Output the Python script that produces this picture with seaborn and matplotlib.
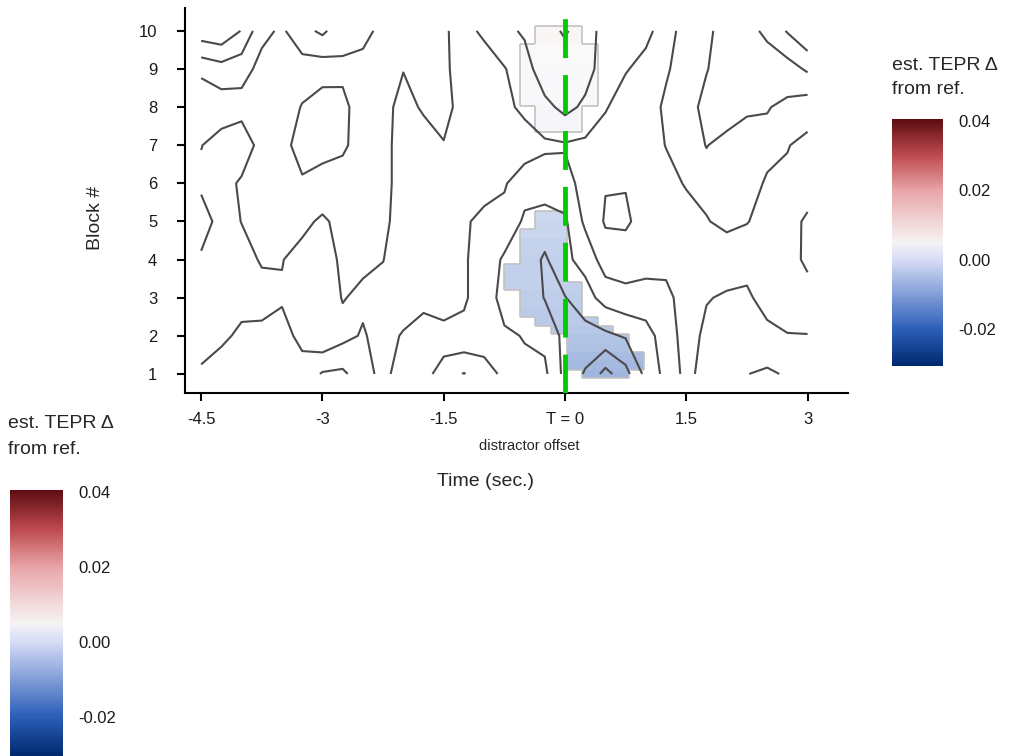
import numpy as np
import matplotlib
matplotlib.use("Agg")
import matplotlib.pyplot as plt
from matplotlib.colors import LinearSegmentedColormap, Normalize
from matplotlib.collections import LineCollection
from matplotlib.ticker import FormatStrFormatter
import seaborn as sns

# ---- data -------------------------------------------------------------
# smoothed surface (values x 0.01), one list per block, time from -4.5 to 3.0 s in 0.25 s steps
time_pts = np.linspace(-4.5, 3.0, 31)
block_pts = np.arange(1, 11)

block1 = [1.8, 1.5, 1.6, 1.6, 1.6, 1.7, 0.9, 0.8, 1.6, 2.3, 1.5, 1.4, 0.5, -0.05, 0.6, 1.2,
          1.2, 1.2, -0.3, -1.1, -2.34, -1.34, 0.3, 1.3, 2.3, 1.6, 1.4, 1.02, 0.85, 1.1, 1.6]
block2 = [2.6, 2.2, 1.8, 1.8, 1.75, 2.2, 2.85, 2.3, 1.9, 2.4, 1.9, 1.7, 1.6, 1.8, 1.5, 1.15,
          0.95, 0.76, -0.3, -0.4, -0.21, 0.1, 0.6, 1.5, 2.4, 1.8, 1.6, 1.5, 1.75, 1.95, 1.97]
block3 = [2.5, 2.5, 2.35, 2.3, 2.08, 2.3, 2.6, 1.95, 2.2, 2.3, 2.6, 2.2, 2.6, 2.1, 1.6, 0.6,
          0.7, -0.05, -0.04, 0.6, 1.4, 1.7, 1.6, 1.7, 2.5, 2.05, 1.9, 1.85, 2.35, 2.6, 2.6]
block4 = [2.15, 2.5, 2.3, 1.92, 1.97, 2.3, 2.5, 1.8, 1.8, 1.98, 2.5, 2.5, 2.6, 2.1, 1.6, 0.85,
          0.6, -0.15, 0.8, 1.33, 2.5, 2.5, 2.4, 2.35, 2.6, 2.6, 2.45, 2.32, 2.5, 2.6, 3.2]
block5 = [1.5, 2.4, 1.98, 1.8, 1.8, 1.78, 2.15, 1.7, 1.7, 1.8, 2.4, 2.5, 2.6, 2.15, 1.7, 1.68,
          0.85, 0.6, 0.85, 2.2, 3.1, 3.15, 2.6, 2.6, 2.75, 2.95, 3.22, 3.05, 2.6, 2.55, 3.2]
block6 = [2.21, 2.4, 1.85, 1.7, 1.7, 1.85, 1.35, 1.6, 1.6, 1.7, 2.4, 2.5, 2.5, 2.3, 2.45, 2.1,
          1.37, 1.5, 1.6, 2.4, 2.95, 2.95, 2.6, 2.8, 3.05, 3.25, 3.4, 3.35, 2.9, 2.8, 2.4]
block7 = [1.97, 2.4, 2.64, 1.6, 1.6, 2.5, 2.6, 2.15, 1.6, 1.7, 2.4, 2.4, 2.05, 2.4, 2.6, 2.4,
          2.6, 2.15, 2.1, 2.2, 2.6, 2.7, 2.7, 3.02, 3.3, 2.98, 3.2, 3.3, 3.25, 3.05, 2.7]
block8 = [1.05, 1.47, 1.62, 1.6, 1.55, 2.05, 2.6, 2.2, 1.6, 1.7, 2.3, 1.89, 1.67, 2.4, 2.6, 2.3,
          1.72, 1.3, 0.7, 1.2, 1.9, 2.6, 2.6, 3.15, 3.4, 2.7, 2.66, 2.9, 2.95, 3.2, 3.55]
block9 = [2.3, 2.6, 2.38, 1.7, 1.6, 1.57, 1.45, 1.82, 1.7, 1.7, 1.97, 1.6, 1.85, 2.35, 2.5, 2.05,
          1.5, 0.3, 0.4, 0.58, 1.5, 1.91, 2.4, 2.9, 3.4, 3.05, 2.5, 2.6, 2.5, 2.44, 1.85]
block10 = [4.6, 4.8, 3.95, 2.25, 1.85, 2.67, 3.2, 2.35, 2.27, 1.75, 1.8, 1.6, 1.9, 2.3, 1.82, 1.3,
           0.84, 0.3, -0.1, 0.5, 1.4, 1.7, 1.67, 2.6, 3.4, 3.3, 2.4, 2.3, 1.8, 0.92, 0.05]

# significant cells of the 40 x 40 evaluation grid: row, first col, last col, fill value
sig_row = [0, 1, 2, 3, 4, 5, 6, 7, 8, 9, 10, 11, 12, 13, 14, 15, 16, 17, 18,
           28, 29, 30, 31, 32, 33, 34, 35, 36, 37, 38, 39]
sig_first = [25, 24, 24, 24, 24, 23, 22, 21, 21, 21, 20, 20, 20, 21, 21, 21, 21, 22, 22,
             22, 22, 22, 21, 21, 21, 21, 21, 21, 21, 22, 22]
sig_last = [27, 28, 28, 27, 27, 26, 25, 24, 24, 24, 24, 23, 23, 23, 23, 23, 23, 23, 23,
            24, 24, 24, 25, 25, 25, 25, 25, 25, 25, 24, 24]
sig_fill = [-0.020, -0.019, -0.018, -0.016, -0.015, -0.014, -0.013, -0.013, -0.012, -0.012,
            -0.011, -0.011, -0.011, -0.011, -0.010, -0.010, -0.009, -0.009, -0.008,
            0.003, 0.003, 0.003, 0.004, 0.004, 0.004, 0.004, 0.005, 0.005, 0.005, 0.007, 0.007]

fill_min, fill_max = -0.0305, 0.0405
cbar_ticks = [-0.02, 0.0, 0.02, 0.04]
x_ticks = [-4.5, -3, -1.5, 0, 1.5, 3]
x_labels = ["-4.5", "-3", "-1.5", "T = 0", "1.5", "3"]
contour_levels = [-0.02, -0.01, 0.0, 0.01, 0.02, 0.03, 0.04]

# ---- style ------------------------------------------------------------
sns.set_theme(style="ticks")
plt.rcParams["font.family"] = ["Liberation Sans", "DejaVu Sans"]
plt.rcParams["axes.unicode_minus"] = False
plt.rcParams["contour.negative_linestyle"] = "solid"

cmap = LinearSegmentedColormap.from_list(
    "tepr",
    [(0.0, "#00286e"), (0.148, "#2d5fb9"), (0.43, "#d7dcf5"), (0.5, "#f6f4f4"),
     (0.711, "#e8a5a8"), (0.852, "#be4b50"), (1.0, "#5e0c12")])
norm = Normalize(fill_min, fill_max)

W, H = 1022, 756
fig = plt.figure(figsize=(W / 100, H / 100), dpi=100)
ax = fig.add_axes([185 / W, 1 - 393 / H, (848 - 185) / W, (393 - 8) / H])

# significant raster
sig_t = np.linspace(-4.5, 3.0, 40)
sig_b = np.linspace(1, 10, 40)
dt = sig_t[1] - sig_t[0]
db = sig_b[1] - sig_b[0]
t_edges = np.append(sig_t - dt / 2, sig_t[-1] + dt / 2)
b_edges = np.append(sig_b - db / 2, sig_b[-1] + db / 2)
grid = np.full((40, 40), np.nan)
for r, c0, c1, v in zip(sig_row, sig_first, sig_last, sig_fill):
    grid[r, c0:c1 + 1] = v
ax.pcolormesh(t_edges, b_edges, np.ma.masked_invalid(grid), cmap=cmap, norm=norm,
              alpha=0.45, shading="flat", edgecolors="none", antialiased=False, zorder=1)

mask = ~np.isnan(grid)
segs = []
for r in range(40):
    for c in range(40):
        if not mask[r, c]:
            continue
        x0, x1, y0, y1 = t_edges[c], t_edges[c + 1], b_edges[r], b_edges[r + 1]
        if r == 0 or not mask[r - 1, c]:
            segs.append([(x0, y0), (x1, y0)])
        if r == 39 or not mask[r + 1, c]:
            segs.append([(x0, y1), (x1, y1)])
        if c == 0 or not mask[r, c - 1]:
            segs.append([(x0, y0), (x0, y1)])
        if c == 39 or not mask[r, c + 1]:
            segs.append([(x1, y0), (x1, y1)])
ax.add_collection(LineCollection(segs, colors="#c2c2c2", linewidths=1.2, zorder=2))

# contour lines of the full surface
tepr = np.array([block1, block2, block3, block4, block5,
                 block6, block7, block8, block9, block10]) * 0.01
ax.contour(time_pts, block_pts, tepr, levels=contour_levels,
           colors="#4a4a4a", linewidths=1.5, linestyles="solid", zorder=3)

ax.axvline(0, color="#00cd00", lw=3.5, dashes=(8, 3.5), zorder=4)

ax.set_xlim(-4.70, 3.50)
ax.set_ylim(0.5, 10.6)
ax.set_xticks(x_ticks)
ax.set_xticklabels(x_labels)
ax.set_yticks(block_pts)
ax.tick_params(axis="both", labelsize=12, length=6, width=1.5, color="black", labelcolor="#1a1a1a")
ax.tick_params(axis="x", pad=8)
ax.tick_params(axis="y", pad=14)
for s in ["left", "bottom"]:
    ax.spines[s].set_linewidth(1.5)
    ax.spines[s].set_color("black")
sns.despine(ax=ax)

fig.text(529 / W, 1 - 446 / H, "distractor offset", ha="center", va="center", fontsize=10.5)
fig.text(485 / W, 1 - 482 / H, "Time (sec.)", ha="center", va="center", fontsize=14)
fig.text(95 / W, 1 - 218 / H, "Block #", ha="center", va="center", rotation=90, fontsize=14)

# two colour legends
sm = plt.cm.ScalarMappable(norm=norm, cmap=cmap)
for rect, tx, ty1, ty2 in [([892 / W, 1 - 366 / H, 51 / W, 247 / H], 892, 65, 90),
                           ([10 / W, 0.0, 53 / W, 266 / H], 8, 423, 449)]:
    cax = fig.add_axes(rect)
    cb = fig.colorbar(sm, cax=cax, ticks=cbar_ticks)
    cb.outline.set_visible(False)
    cax.yaxis.set_major_formatter(FormatStrFormatter("%.2f"))
    cax.tick_params(axis="y", direction="in", color="white", length=8, width=1,
                    left=True, right=True, labelleft=False, labelright=True,
                    labelsize=12, pad=11, labelcolor="#1a1a1a")
    fig.text(tx / W, 1 - ty1 / H, "est. TEPR \u0394", ha="left", va="center", fontsize=14)
    fig.text(tx / W, 1 - ty2 / H, "from ref.", ha="left", va="center", fontsize=14)

fig.savefig("out.png", dpi=100)
